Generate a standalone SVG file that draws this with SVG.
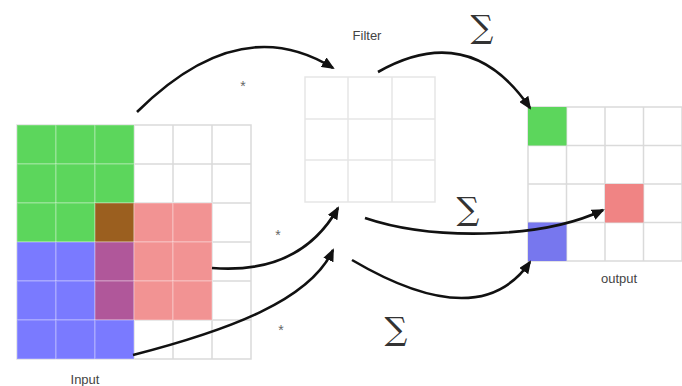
<svg xmlns="http://www.w3.org/2000/svg" width="682" height="386" viewBox="0 0 682 386">
<defs>
<marker id="ah" viewBox="0 0 13 11" refX="11" refY="5.5" markerWidth="13" markerHeight="11" markerUnits="userSpaceOnUse" orient="auto">
<path d="M0,0 L13,5.5 L0,11 Z" fill="#111"/>
</marker>
</defs>
<style>
.bg{fill:#fff}
.gl{stroke:#dadada;stroke-width:1.5;fill:none}
.fl{stroke:#e6e6e6;stroke-width:1.5;fill:none}
.cell{stroke:rgba(255,255,255,0.25);stroke-width:1.5}
.g{fill:#5cd65c}.b{fill:#7a7aff}.p{fill:#f29393}.br{fill:#9b5f1f}.pu{fill:#b0579a}
.arr{stroke:#111;stroke-width:2.6;fill:none;marker-end:url(#ah)}
.lbl{font-family:"Liberation Sans",Arial,sans-serif;font-size:13px;fill:#444;text-anchor:middle}
.sig{font-family:"DejaVu Serif",serif;font-size:32px;fill:#333;text-anchor:middle}
.st{font-family:"Liberation Sans",Arial,sans-serif;font-size:14px;fill:#666;text-anchor:middle}
</style>
<rect class="bg" width="682" height="386"/>
<g id="input">
<path class="gl" d="M17,125H251V359H17Z M56,125V359 M95,125V359 M134,125V359 M173,125V359 M212,125V359 M17,164H251 M17,203H251 M17,242H251 M17,281H251 M17,320H251"/>
<g class="cell">
<rect class="g" x="17" y="125" width="39" height="39"/><rect class="g" x="56" y="125" width="39" height="39"/><rect class="g" x="95" y="125" width="39" height="39"/>
<rect class="g" x="17" y="164" width="39" height="39"/><rect class="g" x="56" y="164" width="39" height="39"/><rect class="g" x="95" y="164" width="39" height="39"/>
<rect class="g" x="17" y="203" width="39" height="39"/><rect class="g" x="56" y="203" width="39" height="39"/><rect class="br" x="95" y="203" width="39" height="39"/>
<rect class="p" x="134" y="203" width="39" height="39"/><rect class="p" x="173" y="203" width="39" height="39"/>
<rect class="b" x="17" y="242" width="39" height="39"/><rect class="b" x="56" y="242" width="39" height="39"/><rect class="pu" x="95" y="242" width="39" height="39"/>
<rect class="p" x="134" y="242" width="39" height="39"/><rect class="p" x="173" y="242" width="39" height="39"/>
<rect class="b" x="17" y="281" width="39" height="39"/><rect class="b" x="56" y="281" width="39" height="39"/><rect class="pu" x="95" y="281" width="39" height="39"/>
<rect class="p" x="134" y="281" width="39" height="39"/><rect class="p" x="173" y="281" width="39" height="39"/>
<rect class="b" x="17" y="320" width="39" height="39"/><rect class="b" x="56" y="320" width="39" height="39"/><rect class="b" x="95" y="320" width="39" height="39"/>
</g>
<text class="lbl" x="85" y="384">Input</text>
</g>
<g id="filter">
<path class="fl" d="M305,77H435V202H305Z M348,77V202 M392,77V202 M305,119H435 M305,160H435"/>
<text class="lbl" x="367" y="40">Filter</text>
</g>
<g id="output">
<path class="gl" d="M528,107H682V261H528Z M566.5,107V261 M605,107V261 M643.5,107V261 M528,145.5H682 M528,184H682 M528,222.5H682"/>
<rect class="g" x="528" y="107" width="38.5" height="38.5"/>
<rect fill="#f08484" x="605" y="184" width="38.5" height="38.5"/>
<rect fill="#7777ee" x="528" y="222.5" width="38.5" height="38.5"/>
<text class="lbl" x="619" y="283">output</text>
</g>
<g id="connectors">
<path class="arr" d="M137,112 Q240,10 333,68"/>
<path class="arr" d="M378,72 Q470,20 530,108"/>
<path class="arr" d="M212,268 Q300,275 338,208"/>
<path class="arr" d="M133,355 C230,330 310,300 333,250"/>
<path class="arr" d="M365,218 C430,240 540,240 603,210"/>
<path class="arr" d="M352,260 C420,300 490,320 530,262"/>
</g>
<g id="labels">
<text class="sig" x="482" y="38">∑</text>
<text class="sig" x="468" y="220">∑</text>
<text class="sig" x="396" y="340">∑</text>
<text class="st" x="243" y="91">*</text>
<text class="st" x="278" y="240">*</text>
<text class="st" x="281" y="335">*</text>
</g>
</svg>
